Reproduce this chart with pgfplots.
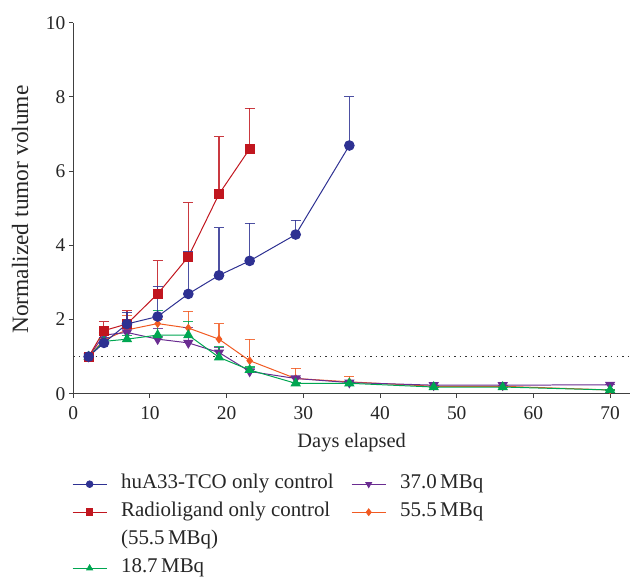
\documentclass[border=0pt]{standalone}
\usepackage{pgfplots}
\pgfplotsset{compat=1.18}
\usepackage{fontspec}
\setmainfont{Liberation Serif}
\definecolor{cblue}{HTML}{2E3192}
\definecolor{cred}{HTML}{C1161F}
\definecolor{cgreen}{HTML}{00A651}
\definecolor{cpurple}{HTML}{6A2C91}
\definecolor{corange}{HTML}{F15A22}
\begin{document}
\begin{tikzpicture}[x=1bp,y=1bp]
\useasboundingbox (-73.3,-183) rectangle (557.7,393.7);
\begin{axis}[
  at={(0,0)}, anchor=origin,
  scale only axis, width=556.7bp, height=371bp,
  xmin=0, xmax=72.6, ymin=0, ymax=10,
  axis lines=left, axis line style={-, line width=1.3pt, draw=black!75},
  xtick={0,10,...,70}, ytick={0,2,...,10},
  tick style={line width=1pt, draw=black!75}, tick align=outside, major tick length=4.5bp,
  ticklabel style={font=\fontsize{19.5}{21}\selectfont, text=black!85},
  xticklabel style={yshift=-5bp},
  /pgf/number format/assume math mode=true,
  xlabel={Days elapsed}, ylabel={Normalized tumor volume},
  xlabel style={font=\fontsize{20.5}{22}\selectfont, text=black!85, at={(axis description cs:0.5,-0.1456)}, anchor=base},
  ylabel style={font=\fontsize{23.5}{25}\selectfont, text=black!85, at={(axis description cs:-0.0957,0.496)}, anchor=center},
  legend columns=2,
  legend style={at={(axis description cs:-0.002,-0.2183)}, anchor=north west, draw=none, fill=none,
    inner sep=0pt, outer sep=0pt, row sep=9bp,
    font=\fontsize{21}{23}\selectfont, text=black!85,
    nodes={text height=14bp, text depth=5bp, inner ysep=0pt, inner xsep=0pt},
    /tikz/every odd column/.append style={column sep=14bp},
    /tikz/every even column/.append style={column sep=17.5bp}},
  legend cell align=left,
  legend image code/.code={\draw[mark repeat=2,mark phase=2,#1,mark size=3.3bp] plot coordinates {(0bp,0bp)(17bp,0bp)(34bp,0bp)};},
  error bars/y dir=plus, error bars/y explicit,
  error bars/error bar style={line width=1.05pt, opacity=0.85},
  error bars/error mark options={rotate=90, mark size=5bp, line width=1.05pt},
  every axis plot/.append style={line width=1pt},
]
\addplot[black!80, dash pattern=on 1.4bp off 4.2bp, line width=1.2pt, forget plot] coordinates {(0,1) (72.6,1)};
\addplot[corange, mark=diamond*, mark size=3.6bp, forget plot] table[x=x, y=y, y error=e] {
x y e
2 1.0 0
4 1.45 0.05
7 1.72 0.40
11 1.89 0.10
15 1.77 0.45
19 1.47 0.42
23 0.89 0.58
29 0.41 0.28
36 0.32 0.15
47 0.20 0.0
56 0.20 0.0
70 0.10 0.0
};
\addplot[cpurple, mark=triangle*, mark options={rotate=180}, mark size=5bp, forget plot] table[x=x, y=y, y error=e] {
x y e
2 1.0 0
4 1.58 0.05
7 1.65 0.15
11 1.47 0.28
15 1.37 0.41
19 1.11 0.14
23 0.60 0.05
29 0.41 0.03
36 0.30 0.02
47 0.23 0.0
56 0.23 0.0
70 0.24 0.0
};
\addplot[cgreen, mark=triangle*, mark size=5bp, forget plot] table[x=x, y=y, y error=e] {
x y e
2 1.0 0
4 1.41 0.05
7 1.47 0.10
11 1.58 0.67
15 1.58 0.37
19 0.98 0.29
23 0.64 0.08
29 0.28 0.02
36 0.28 0.02
47 0.18 0.0
56 0.18 0.0
70 0.10 0.0
};
\addplot[cred, mark=square*, mark size=4.4bp, forget plot] table[x=x, y=y, y error=e] {
x y e
2 1.0 0
4 1.70 0.24
7 1.88 0.36
11 2.69 0.89
15 3.69 1.46
19 5.38 1.55
23 6.60 1.10
};
\addplot[cblue, mark=*, mark size=4.8bp, forget plot] table[x=x, y=y, y error=e] {
x y e
2 1.0 0
4 1.37 0.15
7 1.88 0.32
11 2.08 0.80
15 2.69 1.14
19 3.19 1.28
23 3.58 1.01
29 4.29 0.39
36 6.69 1.31
};
\addlegendimage{cblue, mark=*, line width=0.9pt}
\addlegendentry{huA33-TCO only control}
\addlegendimage{cpurple, mark=triangle*, mark options={rotate=180}, line width=0.9pt}
\addlegendentry{37.0\,MBq}
\addlegendimage{cred, mark=square*, line width=0.9pt}
\addlegendentry{Radioligand only control}
\addlegendimage{corange, mark=diamond*, line width=0.9pt}
\addlegendentry{55.5\,MBq}
\addlegendimage{empty legend}
\addlegendentry{(55.5\,MBq)}
\addlegendimage{empty legend}
\addlegendentry{}
\addlegendimage{cgreen, mark=triangle*, line width=0.9pt}
\addlegendentry{18.7\,MBq}
\end{axis}
\end{tikzpicture}
\end{document}
